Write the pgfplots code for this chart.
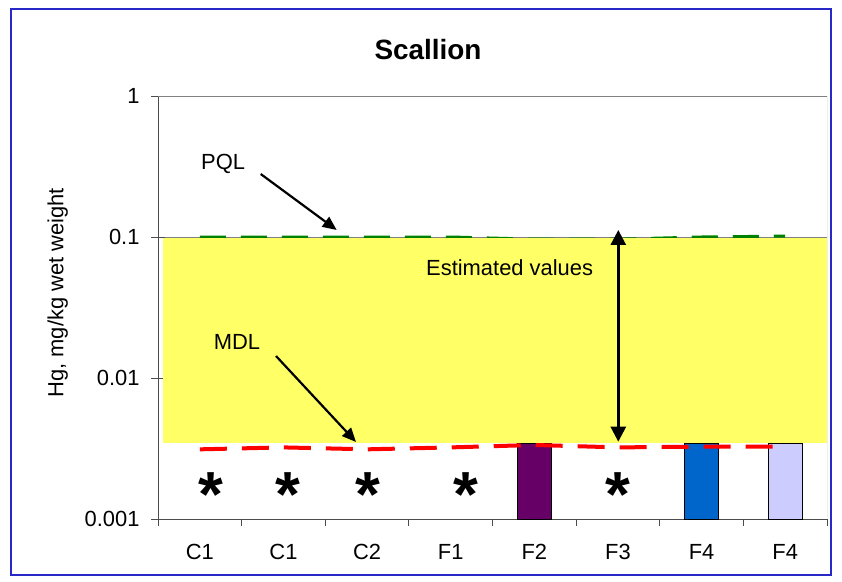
\documentclass[border=0pt]{standalone}
\usepackage{pgfplots}
\pgfplotsset{compat=1.18}
\usepackage{fontspec}
\setmainfont{Liberation Sans}
\usetikzlibrary{arrows.meta}

\definecolor{frameblue}{RGB}{40,40,200}
\definecolor{band}{RGB}{255,255,102}
\definecolor{pqlgreen}{RGB}{0,128,0}
\definecolor{barpurple}{RGB}{102,0,102}
\definecolor{barblue}{RGB}{0,102,204}
\definecolor{barlav}{RGB}{204,204,255}
\definecolor{gridgray}{RGB}{128,128,128}

\begin{document}
\begin{tikzpicture}
\useasboundingbox (0bp,0bp) rectangle (842bp,582bp);
\fill[white] (0bp,0bp) rectangle (842bp,582bp);
\draw[frameblue, line width=1.5bp] (11bp,7bp) rectangle (831bp,573bp);
\begin{axis}[
  at={(158bp,63bp)}, anchor=south west,
  scale only axis, width=669bp, height=423bp,
  ymode=log, ymin=0.001, ymax=1, log origin y=infty,
  xmin=-0.5, xmax=7.5,
  axis x line*=bottom, axis y line*=left,
  axis line style={draw=black!70, line width=1bp},
  xtick={0,...,7}, xticklabels={C1,C1,C2,F1,F2,F3,F4,F4},
  major x tick style={draw=none},
  minor xtick={-0.5,0.5,...,7.5},
  xtick align=outside, minor tick length=7bp,
  ytick={0.001,0.01,0.1,1}, yticklabels={0.001,0.01,0.1,1},
  ytick align=center, major tick length=14bp,
  yminorticks=false,
  ymajorgrids, grid style={gridgray, line width=0.8bp},
  tick style={black!70, line width=1bp},
  ticklabel style={font=\fontsize{22}{26}\selectfont},
  xticklabel style={yshift=-8bp},
  yticklabel style={xshift=-8bp},
  ylabel={Hg, mg/kg wet weight},
  every axis y label/.style={at={(rel axis cs:-0.15,0.535)}, rotate=90, anchor=center, font=\fontsize{22}{26}\selectfont},
]
% bars
\addplot[ybar, bar width=34bp, bar shift=0pt, fill=barpurple, draw=black, line width=0.8bp] coordinates {(4,0.00344)};
\addplot[ybar, bar width=34bp, bar shift=0pt, fill=barblue, draw=black, line width=0.8bp] coordinates {(6,0.00344)};
\addplot[ybar, bar width=34bp, bar shift=0pt, fill=barlav, draw=black, line width=0.8bp] coordinates {(7,0.00344)};
% PQL
\addplot[pqlgreen, line width=3bp, dash pattern=on 26bp off 15bp, mark=none] coordinates {(0,0.1)(1,0.1)(2,0.1)(3,0.1)(4,0.0965)(5,0.0965)(6,0.1)(7,0.1015)};
% estimated-values band
\addplot[draw=none, fill=band] coordinates {(-0.44,0.00344)(7.5,0.00344)(7.5,0.098)(-0.44,0.098)} -- cycle;
% MDL
\addplot[red, line width=4bp, dash pattern=on 27bp off 15bp, mark=none] coordinates {(0,0.00312)(1,0.00322)(2,0.00312)(3,0.00322)(4,0.00335)(5,0.00322)(6,0.00326)(7,0.00326)};
% non-detects
\addplot[only marks, mark=text, text mark={*}, text mark as node=true, text mark style={font=\fontsize{64}{64}\selectfont\bfseries, yshift=-13bp, inner sep=0pt}] coordinates {(0.128,0.00184)(1.057,0.00184)(2.01,0.00184)(3.18,0.00184)(4.996,0.00184)};
\draw[gridgray, line width=1bp] (rel axis cs:0,1) -- (rel axis cs:1,1) -- (rel axis cs:1,0);
\end{axis}
\begin{scope}[x=1bp,y=1bp]
\node[anchor=base, font=\fontsize{28}{32}\selectfont\bfseries] at (428,522) {Scallion};
\node[anchor=base west, inner sep=0pt, font=\fontsize{22}{26}\selectfont] at (201,412) {PQL};
\draw[line width=2.2bp, -{Triangle[length=14bp,width=12bp]}] (260.7,408) -- (336.7,352);
\node[anchor=base west, inner sep=0pt, font=\fontsize{22}{26}\selectfont] at (213.6,233) {MDL};
\draw[line width=2.2bp, -{Triangle[length=14bp,width=12bp]}] (276,226) -- (356,140);
\node[anchor=base west, inner sep=0pt, font=\fontsize{22}{26}\selectfont] at (426,307) {Estimated values};
\draw[line width=2.7bp, {Triangle[length=15bp,width=15bp]}-{Triangle[length=15bp,width=15bp]}] (618.3,352) -- (618.3,140.3);
\end{scope}
\end{tikzpicture}
\end{document}
